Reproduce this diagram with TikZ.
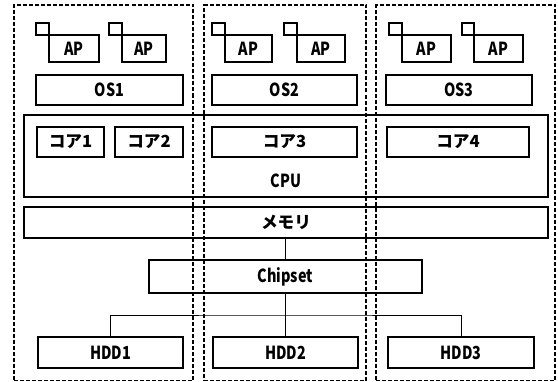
\documentclass[tikz,border=0pt]{standalone}
\usepackage{fontspec}
\setmainfont{Noto Sans CJK JP}
\newfontfamily\lat[FakeStretch=0.8]{Noto Sans CJK JP}
\usetikzlibrary{fit}
\begin{document}
\begin{tikzpicture}[x=0.75pt,y=-0.75pt,
 box/.style={draw, line width=1.5pt, inner sep=0pt},
 part/.style={draw, line width=1pt, dash pattern=on 3pt off 1.5pt, inner sep=0pt},
 wire/.style={line width=0.75pt},
 lt/.style={font=\lat\bfseries\fontsize{13.5}{15}\selectfont, inner sep=0pt},
 jt/.style={font=\bfseries\fontsize{12.5}{14}\selectfont, inner sep=0pt},
 ltext/.style={label={[lt]center:#1}},
 jtext/.style={label={[jt]center:#1}}]
\useasboundingbox (0,0) rectangle (558,382);
% partitions
\node[part, fit={(14,5)(193,380.5)}] (p1) {};
\node[part, fit={(204,5)(366,380.5)}] (p2) {};
\node[part, fit={(376,5)(555,380.5)}] (p3) {};
% AP
\node[box, fit={(36,23)(49,35)}] (s1) {};
\node[box, ltext=AP, fit={(49,35)(99,62)}] (ap1) {};
\node[box, fit={(109,23)(122,35)}] (s2) {};
\node[box, ltext=AP, fit={(122,35)(166,62)}] (ap2) {};
\node[box, fit={(212,23)(225,35)}] (s3) {};
\node[box, ltext=AP, fit={(225,35)(272,62)}] (ap3) {};
\node[box, fit={(284,23)(297,35)}] (s4) {};
\node[box, ltext=AP, fit={(297,35)(345,62)}] (ap4) {};
\node[box, fit={(389,23)(402,35)}] (s5) {};
\node[box, ltext=AP, fit={(402,35)(451,62)}] (ap5) {};
\node[box, fit={(462,23)(474,35)}] (s6) {};
\node[box, ltext=AP, fit={(474,35)(523,62)}] (ap6) {};
% OS
\node[box, ltext=OS1, fit={(36,75)(183,105)}] (os1) {};
\node[box, ltext=OS2, fit={(212,75)(357,105)}] (os2) {};
\node[box, ltext=OS3, fit={(386,75)(532,105)}] (os3) {};
% CPU
\node[box, fit={(24,115)(548,197)}] (cpu) {};
\node[lt] (cpul) at (286,181) {CPU};
\node[box, jtext=コア1, fit={(37,127)(104,157)}] (c1) {};
\node[box, jtext=コア2, fit={(115,127)(183,157)}] (c2) {};
\node[box, jtext=コア3, fit={(212,127)(357,157)}] (c3) {};
\node[box, jtext=コア4, fit={(387,127)(529,157)}] (c4) {};
% memory
\node[box, jtext=メモリ, fit={(24,207)(548,238)}] (mem) {};
% chipset
\node[box, ltext=Chipset, fit={(149,260)(422,293)}] (chip) {};
% HDD
\node[box, ltext=HDD1, fit={(38,337)(183,368)}] (hdd1) {};
\node[box, ltext=HDD2, fit={(213,337)(358,368)}] (hdd2) {};
\node[box, ltext=HDD3, fit={(388,337)(534,368)}] (hdd3) {};
% connectors
\coordinate (bus) at (285.5,315);
\draw[wire] (chip.north) -- (chip.north |- mem.south);
\draw[wire] (chip.south) -- (chip.south |- hdd2.north);
\draw[wire] (hdd1.north) |- (bus) -| (hdd3.north);
\end{tikzpicture}
\end{document}
